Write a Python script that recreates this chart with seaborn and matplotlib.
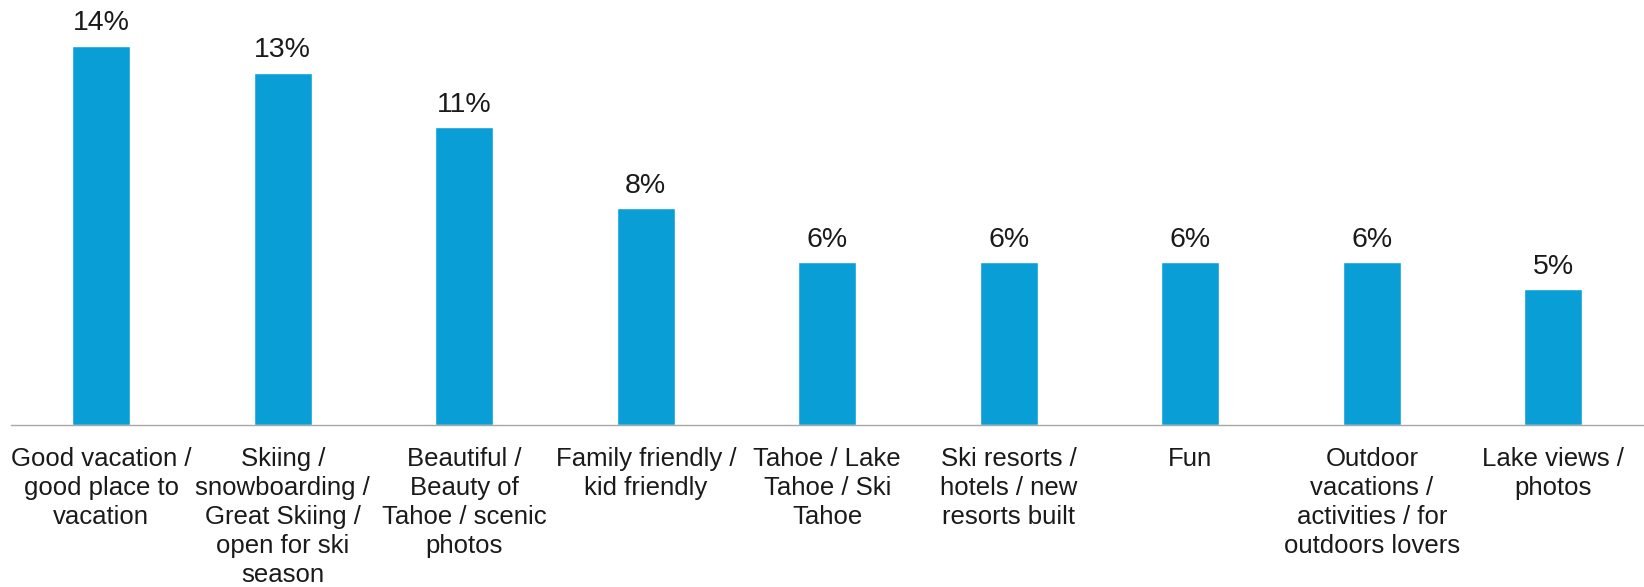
import matplotlib
matplotlib.use("Agg")
import matplotlib.pyplot as plt
import seaborn as sns
import pandas as pd

# Top mentions (share of respondents, %)
categories = [
    "Good vacation /\ngood place to\nvacation",
    "Skiing /\nsnowboarding /\nGreat Skiing /\nopen for ski\nseason",
    "Beautiful /\nBeauty of\nTahoe / scenic\nphotos",
    "Family friendly /\nkid friendly",
    "Tahoe / Lake\nTahoe / Ski\nTahoe",
    "Ski resorts /\nhotels / new\nresorts built",
    "Fun",
    "Outdoor\nvacations /\nactivities / for\noutdoors lovers",
    "Lake views /\nphotos",
]
values = [14, 13, 11, 8, 6, 6, 6, 6, 5]

BAR_COLOR = "#0A9ED6"
TEXT_COLOR = "#1A1A1A"

sns.set_theme(style="white")
plt.rcParams["font.family"] = ["Liberation Sans", "DejaVu Sans"]

df = pd.DataFrame({"category": categories, "share": values})

fig = plt.figure(figsize=(16.44, 5.87), dpi=100)
ax = fig.add_axes([0.0064, 0.276, 0.9936, 0.711])

sns.barplot(data=df, x="category", y="share", color=BAR_COLOR,
            saturation=1, width=0.32, ax=ax)

for i, v in enumerate(df["share"]):
    ax.annotate(f"{v}%", xy=(i, v), xytext=(0, 11.0),
                textcoords="offset points", ha="center", va="baseline",
                fontsize=20.5, color=TEXT_COLOR)

ax.set_xlim(-0.5, 8.5)
ax.set_ylim(0, 15.4)
ax.set_xlabel("")
ax.set_ylabel("")
ax.set_yticks([])
ax.tick_params(axis="x", length=0, pad=16, labelsize=18.5, labelcolor=TEXT_COLOR)
for lab in ax.get_xticklabels():
    lab.set_linespacing(1.26)

for side in ("top", "left", "right"):
    ax.spines[side].set_visible(False)
ax.spines["bottom"].set_color("#A8A8A8")
ax.spines["bottom"].set_linewidth(1.0)

fig.savefig("out.png", dpi=100, facecolor="white")
